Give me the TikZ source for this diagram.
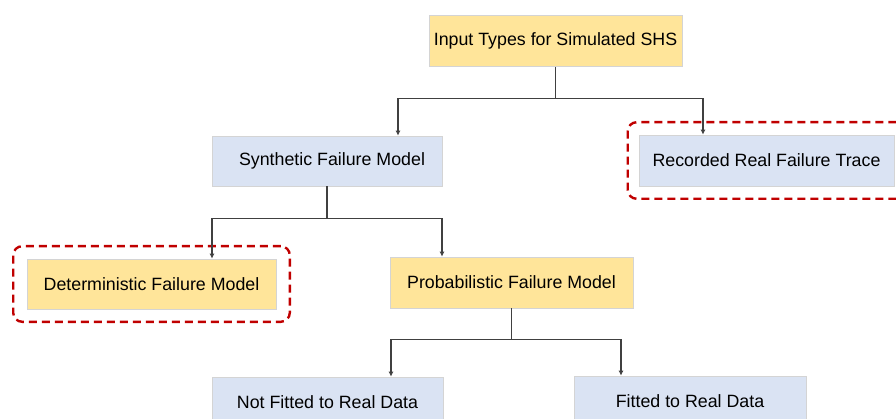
\documentclass[tikz,border=0pt]{standalone}
\usepackage{fontspec}
\setmainfont{Liberation Sans}
\usetikzlibrary{arrows.meta,fit,calc}
\definecolor{boxyellow}{HTML}{FFE59A}
\definecolor{boxblue}{HTML}{DAE3F3}
\definecolor{boxedge}{HTML}{D4D4D4}
\definecolor{dashred}{HTML}{C00000}
\definecolor{linegray}{HTML}{404040}
\tikzset{
  ybox/.style={rectangle, fill=boxyellow, draw=boxedge, line width=0.6pt, inner sep=0pt, font=\fontsize{17.8}{20}\selectfont},
  bbox/.style={rectangle, fill=boxblue, draw=boxedge, line width=0.6pt, inner sep=0pt, font=\fontsize{17.8}{20}\selectfont},
  reddash/.style={draw=dashred, line width=2.4pt, dash pattern=on 8pt off 5pt, rounded corners=9pt},
  conn/.style={draw=linegray, line width=1.1pt, -{Latex[length=5pt,width=5pt]}},
  stem/.style={draw=linegray, line width=1.1pt},
}
\begin{document}
\begin{tikzpicture}[x=1pt,y=-1pt]
\useasboundingbox (0,0) rectangle (896,419);
\node[ybox, minimum width=253pt, minimum height=51pt] (top) at (555.5,41) {Input Types for Simulated SHS};
\node[bbox, minimum width=230pt, minimum height=50pt] (syn) at (327,161) {\hspace{10pt}Synthetic Failure Model};
\node[bbox, minimum width=255pt, minimum height=51pt] (rec) at (766.5,160.5) {Recorded Real Failure Trace};
\node[ybox, minimum width=249pt, minimum height=50pt] (det) at (151.5,284) {Deterministic Failure Model};
\node[ybox, minimum width=243pt, minimum height=51pt] (prob) at (511.5,282.5) {Probabilistic Failure Model};
\node[bbox, minimum width=231pt, minimum height=50pt] (nfit) at (327.5,402) {Not Fitted to Real Data};
\node[bbox, minimum width=232pt, minimum height=50pt] (fit) at (690,401) {Fitted to Real Data};
% red dashed groups
\node[reddash, fit=(rec), inner xsep=11pt, inner ysep=12.5pt] (recgrp) {};
\node[reddash, fit=(det), inner xsep=13.5pt, inner ysep=12.5pt] (detgrp) {};
% junctions
\coordinate (j1) at ($(top.south)+(0,32)$);
\coordinate (j2) at ($(syn.south)+(0,32)$);
\coordinate (j3) at ($(prob.south)+(0,31)$);
\draw[stem] (top.south) -- (j1);
\draw[stem] (syn.south) -- (j2);
\draw[stem] (prob.south) -- (j3);
\draw[conn] (j1) -| ([xshift=71pt]syn.north);
\draw[conn] (j1) -| ([xshift=-63.5pt]rec.north);
\draw[conn] (j2) -| ([xshift=60.5pt]det.north);
\draw[conn] (j2) -| ([xshift=-69.5pt]prob.north);
\draw[conn] (j3) -| ([xshift=63.5pt]nfit.north);
\draw[conn] (j3) -| ([xshift=-69pt]fit.north);
\end{tikzpicture}
\end{document}
